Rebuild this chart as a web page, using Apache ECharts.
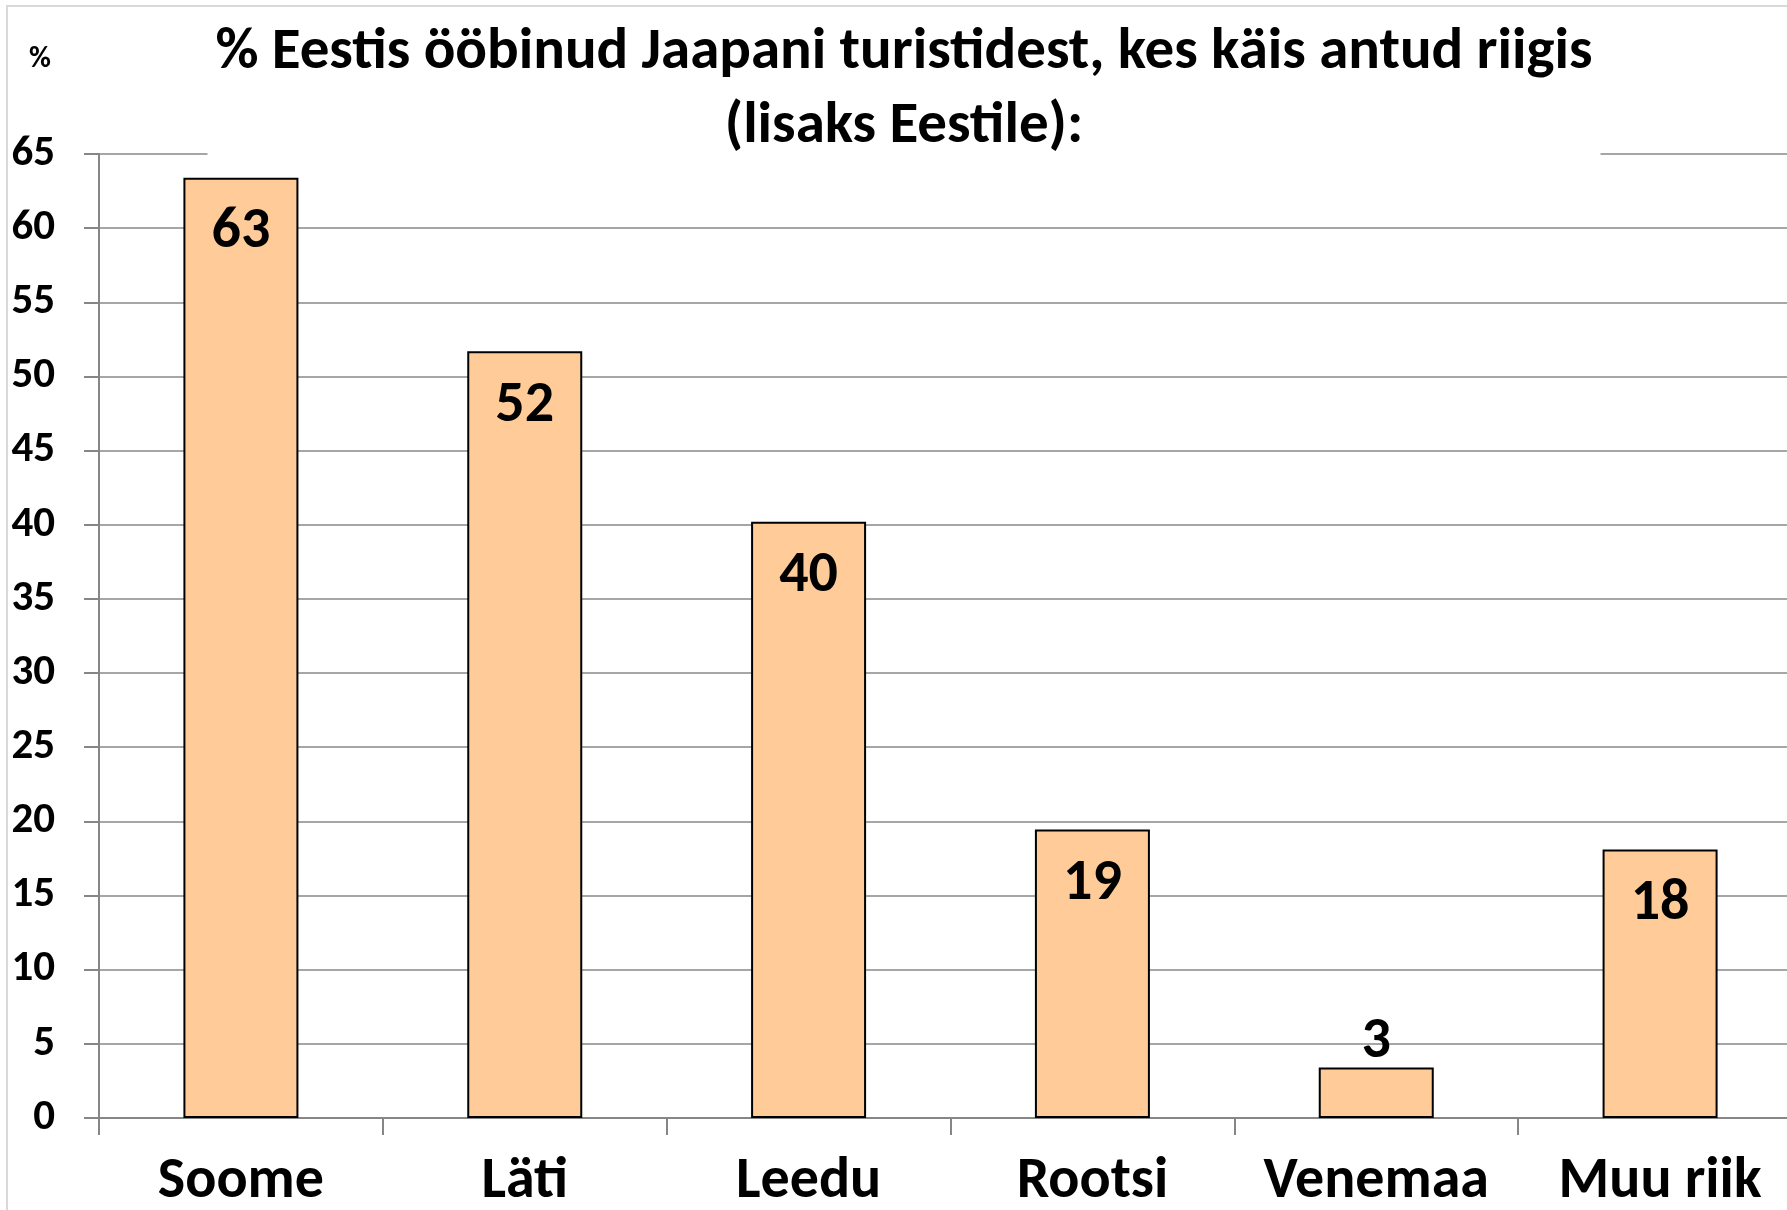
<!DOCTYPE html>
<html>
<head>
<meta charset="utf-8">
<script src="https://cdn.jsdelivr.net/npm/echarts@6/dist/echarts.min.js"></script>
<style>
html, body { margin: 0; padding: 0; background: #fff; }
#main { width: 1787px; height: 1210px; }
</style>
</head>
<body>
<div id="main"></div>
<script>
// riigid ja protsendid
const riigid = ['Soome', 'Läti', 'Leedu', 'Rootsi', 'Venemaa', 'Muu riik']
const protsent = [63.4, 51.7, 40.2, 19.45, 3.4, 18.1]
const yTicks = [0, 5, 10, 15, 20, 25, 30, 35, 40, 45, 50, 55, 60, 65]

const font = '"Carlito", "Open Sans", "Noto Sans", sans-serif'

const barData = protsent.map(function (v) {
  // väike tulp -> silt tulba kohal
  if (v < 10) {
    return { value: v, label: { position: 'top', distance: -4 } }
  }
  return v
})

const option = {
  animation: false,
  backgroundColor: '#fff',
  title: {
    text: '% Eestis ööbinud Jaapani turistidest, kes käis antud riigis\n(lisaks Eestile):',
    left: 896,
    top: 12,
    textAlign: 'center',
    backgroundColor: '#fff',
    padding: [4, 8, 6, 8],
    textStyle: {
      fontFamily: font,
      fontWeight: 'bold',
      fontSize: 59,
      lineHeight: 74,
      color: '#000'
    }
  },
  graphic: [
    {
      type: 'rect',
      shape: { x: 7, y: 6, width: 1800, height: 1220 },
      style: { fill: 'none', stroke: '#d9d9d9', lineWidth: 2 },
      silent: true
    },
    {
      type: 'text',
      left: 29,
      top: 44,
      style: { text: '%', fontFamily: font, fontWeight: 'bold', fontSize: 30, fill: '#000' }
    }
  ],
  grid: {
    left: 99,
    width: 1703,
    top: 154,
    bottom: 1210 - 1118,
    outerBoundsMode: 'none'
  },
  xAxis: {
    type: 'category',
    data: riigid,
    axisLine: { lineStyle: { color: '#868686', width: 2 } },
    axisTick: { show: true, interval: 0, length: 17, lineStyle: { color: '#868686', width: 2 } },
    axisLabel: {
      interval: 0,
      hideOverlap: false,
      margin: 35,
      fontFamily: font,
      fontWeight: 'bold',
      fontSize: 58,
      color: '#000'
    }
  },
  yAxis: {
    type: 'value',
    min: 0,
    max: 65,
    interval: 5,
    axisLine: { show: true, lineStyle: { color: '#868686', width: 2 } },
    axisTick: { show: true, length: 15, lineStyle: { color: '#868686', width: 2 } },
    splitLine: { show: true, lineStyle: { color: '#a6a6a6', width: 2 } },
    axisLabel: {
      margin: 44,
      fontFamily: font,
      fontWeight: 'bold',
      fontSize: 43,
      color: '#000',
      formatter: function (v) { return yTicks.indexOf(v) >= 0 ? String(v) : '' }
    }
  },
  series: [{
    type: 'bar',
    data: barData,
    barWidth: 115,
    itemStyle: { color: '#FFCC99', borderColor: '#000', borderWidth: 2 },
    label: {
      show: true,
      position: 'insideTop',
      distance: 26,
      fontFamily: font,
      fontWeight: 'bold',
      fontSize: 58,
      color: '#000',
      formatter: function (p) { return Math.round(p.value) }
    }
  }]
}

const chart = echarts.init(document.getElementById('main'))
chart.setOption(option)
</script>
</body>
</html>
